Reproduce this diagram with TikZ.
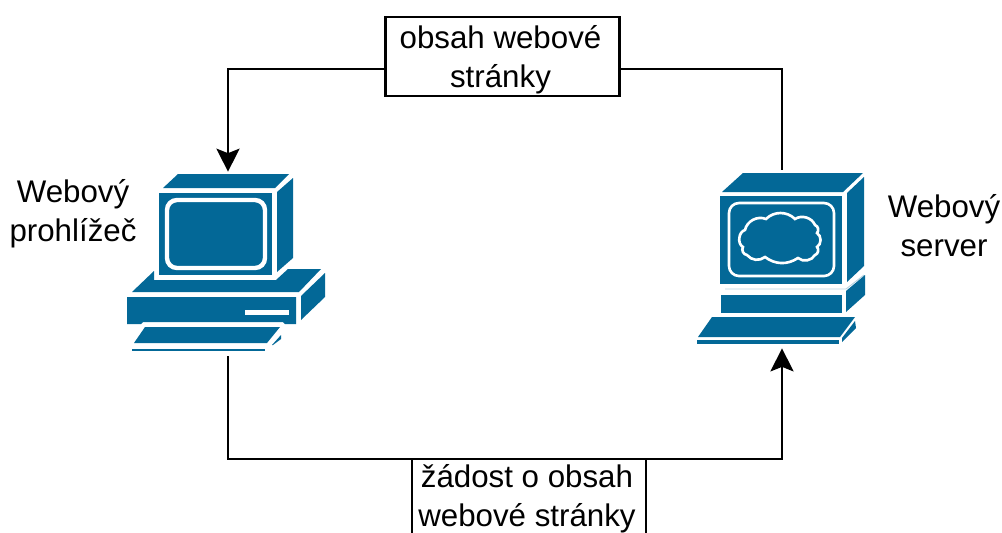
\documentclass[tikz,border=0pt]{standalone}
\usepackage{fontspec}
\setmainfont{Liberation Sans}
\usetikzlibrary{arrows.meta}
\definecolor{pcblue}{HTML}{036897}
\newcommand{\nudge}{\hspace*{0.08cm}}
\tikzset{
	label text/.style={align=center, font=\fontsize{17.8}{22.1}\selectfont, text=black, inner sep=0pt},
	msgbox/.style={label text, draw=black, line width=1.5pt, outer sep=0pt, fill=white, minimum width=4.68cm, minimum height=1.58cm},
	link/.style={draw=black, line width=1.5pt},
	pcarrow/.style={-{Stealth[length=0.46cm, width=0.46cm, inset=0.09cm]}},
	pcbox/.style={inner sep=0pt, minimum width=1pt},
	pcpart/.style={fill=pcblue},
	pcline/.style={draw=white, rounded corners=0.2cm}
}
\begin{document}
\begin{tikzpicture}[x=0.02cm, y=-0.02cm]
	\useasboundingbox (0,0) rectangle (1002,532);
	\clip (0,0) rectangle (1002,532);

	% browser computer
	\fill[pcpart] (163,188) -- (178,174) -- (289,174) -- (275,188) -- cycle;
	\fill[pcpart] (159,193) rectangle (272,275);
	\fill[pcpart] (277,192) -- (293,178) -- (293,258) -- (277,272) -- cycle;
	\draw[pcline, line width=2.5pt] (167,200) rectangle (265,268);
	\fill[pcpart] (132,292) -- (154,271) -- (154,280) -- (276,280) -- (288,269) -- (321,269) -- (299,292) -- cycle;
	\fill[pcpart] (127,297) -- (296,297) -- (296,324) -- (285,324) -- (283,322) -- (143,322) -- (141,324) -- (127,324) -- cycle;
	\fill[white] (245,310) rectangle (289,315);
	\fill[pcpart] (301,296) -- (325,273) -- (325,297) -- (301,320) -- cycle;
	\fill[pcpart] (134,343) -- (145,327) -- (280,327) -- (267,343) -- cycle;
	\fill[pcpart] (132,349) rectangle (265,351);
	\fill[pcpart] (272,345) -- (281,335) -- (281,339) -- (273,345) -- cycle;

	% server computer
	\fill[pcpart] (722,192) -- (743,173) -- (863,173) -- (843,192) -- cycle;
	\fill[pcpart] (720,196) rectangle (842,284);
	\fill[pcpart] (847,193) -- (864,177) -- (864,266) -- (847,282) -- cycle;
	\draw[pcline, line width=1.5pt] (729,203) rectangle (834,276);
	\draw[white, line width=1.5pt, fill=pcblue] (745,230) to[bend left=50] (766,219) to[bend left=45] (795,219) to[bend left=50] (815,225) to[bend left=60] (817,233) to[bend left=60] (817,247) to[bend left=60] (815,255) to[bend left=50] (798,258) to[bend left=35] (765,257) to[bend left=45] (747,255) to[bend left=60] (743,247) to[bend left=70] cycle;
	\draw[pcblue!30, line width=0.5pt] (725,289) -- (846,289) -- (864,275);
	\fill[pcpart] (721,295) rectangle (842,313);
	\fill[pcpart] (846,291) -- (865,275) -- (865,295) -- (846,312) -- cycle;
	\fill[pcpart] (698,337) -- (712,317) -- (855,317) -- (840,337) -- cycle;
	\fill[pcpart] (697,340) rectangle (839,344);
	\fill[pcpart] (842,338) -- (855,321) -- (856,328) -- (842,342) -- cycle;

	\node[pcbox, minimum height=3.68cm] (browser) at (228,264) {};
	\node[pcbox, minimum height=3.56cm] (server) at (782,259) {};

	\node[msgbox] (answer) at (502.5,56.5) {\rule{0pt}{0.58cm}obsah webové\nudge\\stránky\nudge};
	\node[msgbox] (request) at (529,498.5) {žádost o obsah\nudge\\webové stránky\nudge};

	\node[label text] (browserlabel) at (73,214) {Webový\\prohlížeč};
	\node[label text] (serverlabel) at (944,225.5) {Webový\\server};

	\draw[link, pcarrow] ([yshift=-0.25cm]answer.west) -| (browser.north);
	\draw[link] ([yshift=-0.25cm]answer.east) -| (server.north);
	\draw[link] (browser.south) |- (request.north west);
	\draw[link, pcarrow] (request.north east) -| (server.south);
\end{tikzpicture}
\end{document}
